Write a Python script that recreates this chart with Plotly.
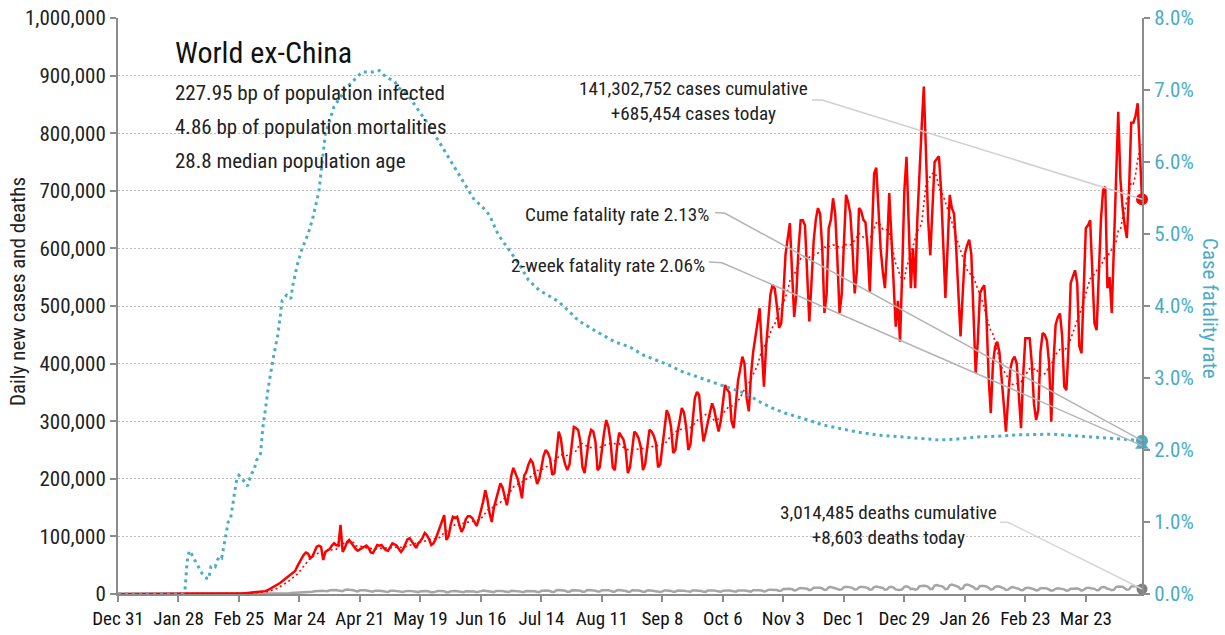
import pandas as pd
import plotly.graph_objects as go

START = "2019-12-31"
FONT = "Liberation Sans Narrow, Arial Narrow, Roboto Condensed, DejaVu Sans Condensed, sans-serif"
RED = "#FF0000"
TEAL = "#4BACC6"
GRAY = "#A6A6A6"

# ---------------- data ----------------
# daily new cases, thousands, Dec 31 2019 .. Feb 23 2020
cases_pre_k = [0,
               0, 0, 0, 0, 0, 0, 0, 0, 0, 0, 0, 0, 0, 0, 0, 0, 0, 0, 0,
               0.002, 0.003, 0.005, 0.008, 0.01, 0.015, 0.012, 0.018, 0.02, 0.022, 0.025, 0.03,
               0.03, 0.035, 0.04, 0.045, 0.04, 0.05, 0.055, 0.06, 0.05, 0.045, 0.04, 0.05,
               0.06, 0.07, 0.08, 0.09, 0.1, 0.11, 0.15, 0.25, 0.4, 0.55, 0.8]
# daily new cases, thousands, weeks Mon..Sun from Feb 24 2020
cases_weeks_k = [
    [0.6, 0.8, 1.0, 1.2, 1.4, 1.7, 1.9],
    [2.0, 2.5, 3.0, 3.5, 4.0, 4.5, 5.0],
    [6, 8, 10, 12, 15, 17, 19],
    [22, 25, 28, 30, 34, 37, 40],
    [48, 56, 62, 68, 72, 70, 62],
    [65, 74, 82, 84, 82, 59, 73],
    [76, 78, 84, 88, 85, 84, 120],
    [73, 80, 90, 94, 88, 82, 78],
    [75, 78, 80, 82, 84, 80, 72],
    [71, 78, 85, 84, 85, 80, 76],
    [75, 82, 88, 86, 84, 78, 73],
    [78, 88, 95, 97, 92, 85, 80],
    [88, 92, 98, 106, 102, 95, 85],
    [88, 95, 105, 118, 125, 137, 94],
    [100, 120, 134, 132, 134, 120, 108],
    [115, 130, 135, 135, 132, 125, 118],
    [130, 143, 160, 180, 165, 140, 125],
    [150, 165, 178, 192, 185, 170, 154],
    [175, 205, 219, 210, 200, 185, 166],
    [205, 212, 225, 233, 228, 210, 191],
    [200, 221, 240, 250, 245, 235, 207],
    [210, 245, 282, 270, 240, 225, 215],
    [225, 255, 290, 288, 285, 265, 220],
    [210, 245, 270, 285, 282, 265, 215],
    [220, 255, 280, 302, 290, 265, 220],
    [215, 255, 280, 275, 268, 250, 210],
    [220, 250, 282, 278, 270, 255, 215],
    [225, 255, 285, 282, 275, 262, 220],
    [225, 260, 295, 319, 310, 290, 245],
    [250, 280, 305, 323, 315, 290, 250],
    [260, 300, 340, 351, 345, 300, 265],
    [280, 300, 315, 331, 320, 300, 282],
    [300, 335, 363, 355, 350, 300, 288],
    [330, 370, 390, 412, 400, 340, 317],
    [380, 420, 450, 470, 496, 420, 360],
    [430, 480, 520, 537, 530, 500, 462],
    [470, 520, 590, 620, 644, 560, 481],
    [520, 600, 649, 649, 640, 560, 473],
    [540, 612, 650, 670, 660, 600, 488],
    [520, 635, 650, 687, 660, 580, 488],
    [520, 620, 693, 680, 660, 600, 522],
    [560, 670, 665, 650, 645, 600, 525],
    [620, 730, 740, 660, 600, 560, 531],
    [600, 696, 620, 540, 464, 509, 438],
    [560, 700, 759, 640, 531, 600, 531],
    [650, 739, 810, 881, 760, 650, 588],
    [683, 750, 755, 760, 700, 600, 514],
    [600, 693, 670, 660, 600, 520, 447],
    [520, 590, 605, 615, 590, 480, 384],
    [440, 522, 530, 536, 481, 377, 314],
    [400, 429, 438, 420, 380, 330, 282],
    [340, 390, 406, 412, 400, 340, 288],
    [380, 444, 444, 444, 400, 330, 302],
    [320, 420, 453, 450, 440, 400, 299],
    [400, 467, 480, 487, 450, 360, 354],
    [430, 540, 550, 562, 540, 430, 418],
    [520, 635, 640, 649, 560, 470, 458],
    [560, 650, 701, 707, 531, 550, 488],
    [600, 700, 837, 720, 671, 640, 618],
    [700, 818, 818, 830, 852, 760, 685.454],
]
# daily deaths, thousands, Dec 31 2019 .. Feb 23 2020
deaths_pre_k = [0, 0, 0, 0, 0, 0, 0, 0, 0, 0,
                0, 0, 0, 0, 0, 0, 0, 0, 0, 0,
                0, 0, 0, 0, 0, 0, 0, 0, 0, 0,
                0, 0, 0, 0, 0, 0, 0, 0, 0, 0,
                0, 0, 0, 0, 0, 0, 0, 0, 0, 0,
                0.001, 0.001, 0.002, 0.003, 0.004]
# daily deaths, thousands, weeks Mon..Sun from Feb 24 2020
deaths_weeks_k = [
    [0.01, 0.01, 0.01, 0.02, 0.02, 0.02, 0.02],
    [0.03, 0.04, 0.05, 0.06, 0.07, 0.1, 0.15],
    [0.2, 0.25, 0.3, 0.35, 0.45, 0.5, 0.6],
    [0.7, 0.9, 1.1, 1.3, 1.6, 1.7, 1.8],
    [2.0, 2.5, 2.8, 3.0, 3.5, 3.6, 3.5],
    [3.8, 4.8, 5.0, 5.5, 6.2, 5.5, 5.0],
    [4.8, 6.5, 7.0, 7.2, 7.0, 6.0, 5.2],
    [5.0, 7.0, 7.8, 7.2, 7.5, 6.5, 5.0],
    [4.6, 6.5, 6.8, 6.3, 6.0, 5.3, 4.0],
    [4.0, 5.8, 6.2, 5.8, 5.2, 4.5, 3.6],
    [3.5, 5.5, 6.0, 5.6, 5.0, 4.5, 3.5],
    [3.4, 5.0, 5.5, 5.3, 5.0, 4.4, 3.2],
    [3.3, 4.8, 5.0, 5.0, 5.0, 4.3, 2.9],
    [2.9, 4.2, 5.0, 5.0, 5.0, 4.6, 3.0],
    [3.0, 4.6, 5.2, 5.0, 4.9, 4.3, 3.0],
    [3.2, 4.8, 5.0, 5.2, 5.0, 4.4, 3.2],
    [3.5, 5.0, 6.0, 5.2, 5.2, 4.5, 3.4],
    [3.3, 5.0, 5.4, 5.3, 5.0, 4.5, 3.3],
    [3.4, 5.5, 5.4, 5.4, 5.2, 4.5, 3.4],
    [3.5, 5.4, 5.5, 5.6, 5.4, 4.8, 3.5],
    [3.5, 5.5, 5.8, 5.8, 6.0, 5.0, 3.6],
    [3.8, 6.5, 6.8, 6.5, 6.2, 5.5, 3.8],
    [3.8, 6.5, 6.8, 6.4, 6.2, 5.5, 4.0],
    [3.9, 6.5, 6.8, 6.8, 6.5, 5.5, 4.2],
    [4.2, 6.6, 6.9, 6.8, 6.4, 5.5, 4.0],
    [4.2, 6.5, 6.8, 6.5, 6.0, 5.4, 3.9],
    [4.0, 6.5, 6.6, 6.2, 6.0, 5.2, 3.8],
    [4.0, 6.2, 6.5, 6.0, 5.8, 5.2, 3.8],
    [3.6, 4.5, 6.2, 6.2, 6.0, 5.3, 3.8],
    [4.0, 6.2, 6.4, 6.0, 5.8, 5.0, 3.9],
    [4.0, 6.5, 6.4, 6.2, 5.9, 5.2, 3.8],
    [3.7, 6.0, 6.2, 6.2, 6.0, 5.2, 3.9],
    [3.8, 5.8, 6.5, 6.0, 6.0, 5.2, 3.9],
    [4.0, 6.0, 6.7, 6.2, 6.2, 5.3, 4.0],
    [4.2, 6.5, 6.8, 6.8, 6.6, 6.0, 4.5],
    [5.0, 7.2, 7.5, 7.5, 7.2, 6.8, 5.2],
    [5.8, 8.8, 9.2, 9.0, 9.0, 8.5, 6.3],
    [6.8, 9.5, 10.5, 10.0, 10.0, 9.0, 6.8],
    [7.5, 11.0, 11.0, 11.0, 10.8, 9.6, 7.2],
    [7.6, 11.8, 12.0, 11.0, 10.5, 9.5, 7.4],
    [8.0, 11.5, 12.5, 12.5, 11.5, 10.5, 7.8],
    [8.0, 11.5, 12.5, 12.5, 11.5, 10.5, 7.5],
    [8.0, 12.0, 13.0, 12.5, 12.0, 10.5, 7.5],
    [8.0, 12.0, 12.5, 11.0, 8.0, 7.5, 7.0],
    [8.0, 12.5, 13.5, 12.0, 8.5, 9.0, 7.5],
    [8.5, 13.5, 14.5, 14.5, 14.0, 12.5, 8.5],
    [9.0, 14.5, 15.5, 14.5, 14.0, 12.0, 8.5],
    [9.0, 15.0, 16.5, 15.0, 14.0, 12.5, 8.5],
    [9.5, 15.5, 16.5, 15.5, 14.0, 12.0, 8.5],
    [9.0, 14.0, 14.5, 14.0, 13.0, 11.0, 7.5],
    [8.5, 12.5, 13.5, 13.0, 12.0, 10.0, 7.0],
    [7.5, 10.5, 12.0, 11.0, 10.5, 9.0, 6.5],
    [7.0, 10.0, 11.0, 10.5, 10.0, 8.5, 6.0],
    [6.8, 9.8, 10.5, 10.0, 9.5, 8.3, 5.8],
    [6.5, 9.0, 9.8, 9.3, 9.0, 8.0, 5.8],
    [6.5, 9.3, 9.8, 9.5, 9.5, 8.5, 6.0],
    [7.0, 10.0, 11.0, 10.5, 10.0, 9.0, 6.5],
    [7.0, 11.0, 12.0, 11.5, 9.0, 8.5, 6.5],
    [7.5, 12.0, 13.0, 13.0, 12.5, 10.0, 7.5],
    [8.0, 13.0, 14.0, 13.5, 13.0, 11.0, 8.603],
]
# cumulative case fatality rate (%), days after Dec 31 2019
cfr_day = [0, 30, 31, 32, 33, 34, 35, 36, 37, 38, 39, 40, 41, 42, 43, 44, 45, 46, 47, 48,
           49, 50, 51, 52, 53, 54, 55, 56, 57, 58, 59, 60, 61, 62, 63, 64, 65, 66, 67, 68,
           69, 70, 72, 74, 76, 78, 80, 81, 83, 85, 88, 90, 93, 94, 96, 98, 100, 103, 105, 108,
           113, 118, 121, 124, 128, 130, 134, 138, 139, 144, 151, 158, 165, 168, 172, 176, 181, 186, 190, 195,
           199, 204, 209, 213, 219, 224, 230, 237, 243, 249, 255, 261, 268, 274, 280, 286, 291, 297, 303, 309,
           315, 319, 326, 334, 342, 351, 360, 369, 380, 388, 397, 406, 417, 432, 447, 463, 469, 474]
cfr_pct = [0, 0, 0.05, 0.45, 0.6, 0.56, 0.5, 0.44, 0.38, 0.33, 0.28, 0.25, 0.22, 0.21, 0.38, 0.4, 0.38, 0.47, 0.52, 0.5,
           0.65, 0.8, 1.0, 1.03, 1.21, 1.45, 1.6, 1.65, 1.62, 1.58, 1.54, 1.5, 1.6, 1.68, 1.72, 1.85, 1.9, 1.95, 2.3, 2.53,
           2.8, 2.95, 3.3, 3.6, 4.08, 4.15, 4.1, 4.3, 4.57, 4.78, 5.0, 5.2, 5.59, 5.85, 6.4, 6.58, 6.77, 6.9, 7.0, 7.1,
           7.25, 7.25, 7.27, 7.18, 7.12, 7.03, 6.93, 6.77, 6.72, 6.51, 6.17, 5.82, 5.47, 5.4, 5.26, 4.99, 4.78, 4.57, 4.36, 4.22,
           4.15, 4.06, 3.92, 3.8, 3.69, 3.6, 3.5, 3.43, 3.32, 3.25, 3.18, 3.09, 3.02, 2.95, 2.9, 2.83, 2.78, 2.67, 2.58, 2.51,
           2.46, 2.42, 2.35, 2.3, 2.25, 2.21, 2.19, 2.16, 2.14, 2.15, 2.18, 2.19, 2.21, 2.22, 2.19, 2.16, 2.14, 2.13]
cume_cfr_pct = 2.13
twoweek_cfr_pct = 2.06

title_text = "World ex-China"
subtitle_lines = ["227.95 bp of population infected",
                  "4.86 bp of population mortalities",
                  "28.8 median population age"]
cases_label = "141,302,752 cases cumulative<br>+685,454 cases today"
deaths_label = "3,014,485 deaths cumulative<br>+8,603 deaths today"
cume_label = "Cume fatality rate 2.13%"
twoweek_label = "2-week fatality rate 2.06%"

# ---------------- build series ----------------
cases = [v * 1000 for v in cases_pre_k + [x for w in cases_weeks_k for x in w]]
deaths = [v * 1000 for v in deaths_pre_k + [x for w in deaths_weeks_k for x in w]]
dates = pd.date_range(START, periods=len(cases), freq="D")
avg7 = pd.Series(cases).rolling(7).mean()
cfr_dates = pd.Timestamp(START) + pd.to_timedelta(cfr_day, unit="D")
cfr = [p / 100 for p in cfr_pct]

# pixel -> paper helpers for layout placement
L, R, T, B, W, H = 118, 83, 18, 41, 1225, 635
PW, PH = W - L - R, H - T - B


def px(x):
    return (x - L) / PW


def py(y):
    return (H - B - y) / PH


fig = go.Figure()
fig.add_trace(go.Scatter(x=dates, y=deaths, mode="lines",
                         line=dict(color=GRAY, width=2.5)))
fig.add_trace(go.Scatter(x=dates, y=avg7, mode="lines",
                         line=dict(color=RED, width=1.6, dash="2px,3px")))
fig.add_trace(go.Scatter(x=dates, y=cases, mode="lines",
                         line=dict(color=RED, width=2.5)))
fig.add_trace(go.Scatter(x=cfr_dates, y=cfr, mode="lines", yaxis="y2",
                         line=dict(color=TEAL, width=3, dash="3px,4px")))
# end markers
fig.add_trace(go.Scatter(x=[dates[-1]], y=[twoweek_cfr_pct / 100], yaxis="y2", mode="markers",
                         marker=dict(color=TEAL, size=12, symbol="triangle-up"), cliponaxis=False))
fig.add_trace(go.Scatter(x=[dates[-1]], y=[cume_cfr_pct / 100], yaxis="y2", mode="markers",
                         marker=dict(color=TEAL, size=12), cliponaxis=False))
fig.add_trace(go.Scatter(x=[dates[-1]], y=[deaths[-1]], mode="markers",
                         marker=dict(color="#7F7F7F", size=11), cliponaxis=False))
fig.add_trace(go.Scatter(x=[dates[-1]], y=[cases[-1]], mode="markers",
                         marker=dict(color=RED, size=12), cliponaxis=False))

# leader lines
leaders = [
    ((812, 100), (822, 100), cases[-1] / 1e6, "#CFCFCF"),
    ((715, 212.5), (725, 213.3), cume_cfr_pct / 100 / 0.08, "#B4B4B4"),
    ((709, 262), (722, 262.7), twoweek_cfr_pct / 100 / 0.08, "#B4B4B4"),
    ((1000, 522.3), (1008, 522.3), deaths[-1] / 1e6, "#D5D5D5"),
]
shapes = []
for (x0, y0), (x1, y1), yend, col in leaders:
    shapes.append(dict(type="path", xref="paper", yref="paper",
                       path=f"M {px(x0)},{py(y0)} L {px(x1)},{py(y1)} L 1,{yend}",
                       line=dict(color=col, width=1.5)))

ann = []
ann.append(dict(x=px(173), y=py(52), xref="paper", yref="paper", text=title_text,
                xanchor="left", yanchor="middle", showarrow=False,
                font=dict(size=30, color="#111")))
for i, line in enumerate(subtitle_lines):
    ann.append(dict(x=px(173), y=py(93 + 34 * i), xref="paper", yref="paper", text=line,
                    xanchor="left", yanchor="middle", showarrow=False,
                    font=dict(size=21, color="#222")))
ann.append(dict(x=px(693), y=py(101), xref="paper", yref="paper", text=cases_label,
                xanchor="center", yanchor="middle", align="center", showarrow=False,
                font=dict(size=19.2, color="#222")))
ann.append(dict(x=px(888), y=py(525), xref="paper", yref="paper", text=deaths_label,
                xanchor="center", yanchor="middle", align="center", showarrow=False,
                font=dict(size=19.2, color="#222")))
ann.append(dict(x=px(711), y=py(215), xref="paper", yref="paper", text=cume_label,
                xanchor="right", yanchor="middle", showarrow=False,
                font=dict(size=19.2, color="#222")))
ann.append(dict(x=px(707), y=py(265), xref="paper", yref="paper", text=twoweek_label,
                xanchor="right", yanchor="middle", showarrow=False,
                font=dict(size=19.2, color="#222")))
ann.append(dict(x=px(18), y=py(292), xref="paper", yref="paper", text="Daily new cases and deaths",
                textangle=-90, xanchor="center", yanchor="middle", showarrow=False,
                font=dict(size=21, color="#222")))
ann.append(dict(x=px(1210), y=py(308), xref="paper", yref="paper", text="Case fatality rate",
                textangle=90, xanchor="center", yanchor="middle", showarrow=False,
                font=dict(size=21, color=TEAL)))

fig.update_layout(
    width=W, height=H, margin=dict(l=L, r=R, t=T, b=B, autoexpand=False),
    paper_bgcolor="white", plot_bgcolor="white", showlegend=False,
    font=dict(family=FONT, color="#222"),
    shapes=shapes, annotations=ann,
    xaxis=dict(type="date", range=[dates[0], dates[-1]], tick0=START, dtick=28 * 86400000,
               tickformat="%b %-d", showline=True, linecolor="#8C8C8C", linewidth=2,
               ticks="outside", ticklen=6, tickcolor="#8C8C8C", tickwidth=1.5, automargin=False,
               showgrid=False, zeroline=False, tickfont=dict(size=19, color="#111")),
    yaxis=dict(range=[0, 1e6], dtick=100000, tickformat=",", showline=True,
               linecolor="#8C8C8C", linewidth=2, ticks="outside", ticklen=6, automargin=False,
               tickcolor="#8C8C8C", tickwidth=1.5, gridcolor="#BDBDBD", griddash="2px,2px",
               gridwidth=1, zeroline=False, tickfont=dict(size=21, color="#222")),
    yaxis2=dict(range=[0, 0.08], dtick=0.01, tickformat=".1%", overlaying="y", side="right",
                showline=True, linecolor="#8C8C8C", linewidth=2, ticks="outside", ticklen=6,
                tickcolor="#8C8C8C", tickwidth=1.5, showgrid=False, zeroline=False, automargin=False,
                tickfont=dict(size=21, color=TEAL)),
)

fig.write_html("out.html", config={"displayModeBar": False},
               post_script="document.body.style.margin='0';document.body.style.overflow='hidden';")
